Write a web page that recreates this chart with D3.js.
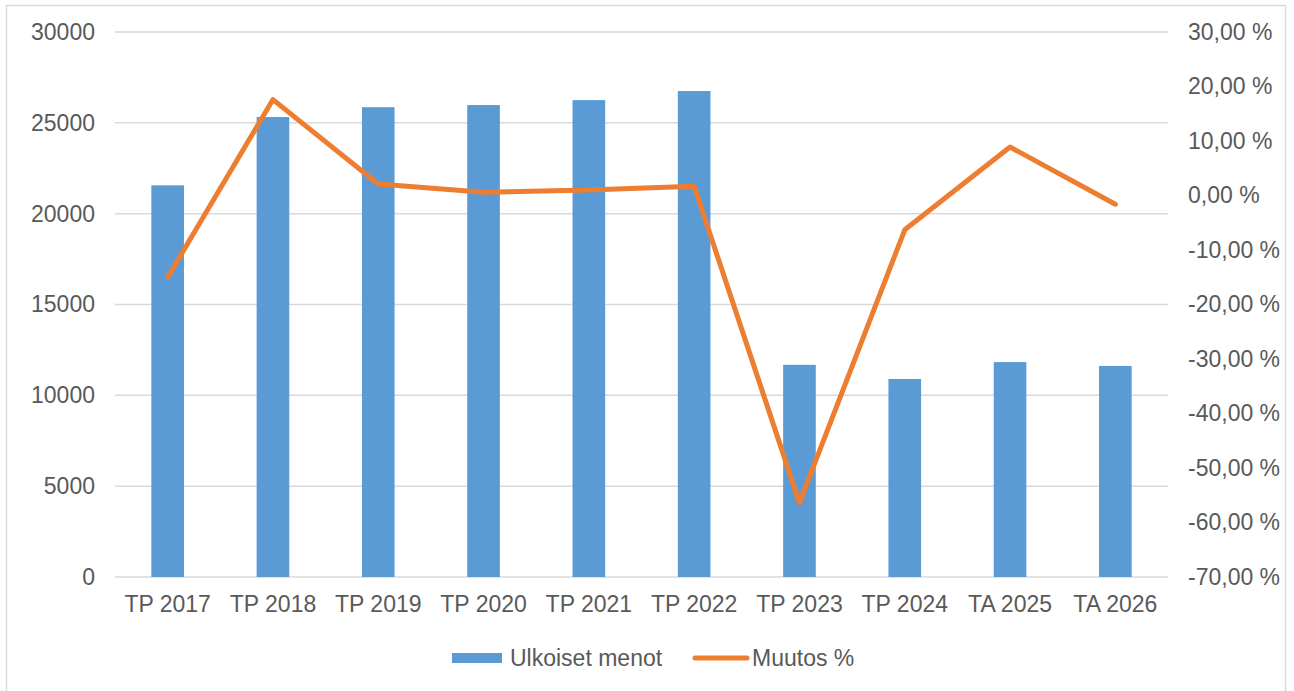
<!DOCTYPE html>
<html>
<head>
<meta charset="utf-8">
<script src="https://cdn.jsdelivr.net/npm/d3@7"></script>
<style>
  body { margin: 0; background: #fff; overflow: hidden; }
  text { font-family: "Liberation Sans", Arial, sans-serif; fill: #595959; }
</style>
</head>
<body>
<div id="chart"></div>
<script>
// Ulkoiset menot (bars, left axis) and Muutos % (line, right axis)
var categories = ["TP 2017", "TP 2018", "TP 2019", "TP 2020", "TP 2021", "TP 2022", "TP 2023", "TP 2024", "TA 2025", "TA 2026"]
var menot = [21560, 25320, 25860, 25980, 26250, 26750, 11680, 10900, 11830, 11620]
var muutos = [-15.0, 17.6, 2.1, 0.6, 1.0, 1.7, -56.4, -6.3, 8.9, -1.6]
var leftTicks = [0, 5000, 10000, 15000, 20000, 25000, 30000]
var rightTicks = [-70, -60, -50, -40, -30, -20, -10, 0, 10, 20, 30]
var legendText = ["Ulkoiset menot", "Muutos %"]

const W = 1294, H = 691
const plot = {left: 115, right: 1168, top: 32, bottom: 577}
const blue = "#5b9bd5", orange = "#ed7d31"

var svg = d3.select("#chart").append("svg").attr("width", W).attr("height", H)

// outer frame (bottom edge is cut off in the picture)
svg.append("rect").attr("x", 6.5).attr("y", 5.5).attr("width", 1279).attr("height", 700)
    .attr("fill", "#fff").attr("stroke", "#d9d9d9").attr("stroke-width", 1.5)

var x = d3.scaleBand().domain(categories).range([plot.left, plot.right]).paddingInner(0.69).paddingOuter(0.345)
var y = d3.scaleLinear().domain([0, 30000]).range([plot.bottom, plot.top])
var y2 = d3.scaleLinear().domain([-70, 30]).range([plot.bottom, plot.top])

// gridlines
svg.append("g").selectAll("line").data(leftTicks).enter().append("line")
    .attr("x1", plot.left).attr("x2", plot.right)
    .attr("y1", d => y(d)).attr("y2", d => y(d))
    .attr("stroke", "#d9d9d9").attr("stroke-width", 1.5)

// left axis labels
var yAxis = d3.axisLeft(y).tickValues(leftTicks).tickSize(0).tickPadding(0).tickFormat(d3.format("d"))
var gy = svg.append("g").attr("transform", "translate(95,0)").call(yAxis)
gy.select(".domain").remove()
gy.selectAll("text").style("font-size", "23px").attr("fill", "#595959")

// right axis labels, finnish style "-10,00 %"
var fmtPct = d => d3.format(".2f")(d).replace(".", ",").replace("\u2212", "-") + " %"
var y2Axis = d3.axisRight(y2).tickValues(rightTicks).tickSize(0).tickPadding(0).tickFormat(fmtPct)
var gy2 = svg.append("g").attr("transform", "translate(1188,0)").call(y2Axis)
gy2.select(".domain").remove()
gy2.selectAll("text").style("font-size", "23px").attr("fill", "#595959")

// bars
svg.append("g").selectAll("rect").data(menot).enter().append("rect")
    .attr("x", (d, i) => x(categories[i]))
    .attr("y", d => y(d))
    .attr("width", x.bandwidth())
    .attr("height", d => y(0) - y(d))
    .attr("fill", blue)

// category labels
var xAxis = d3.axisBottom(x).tickSize(0).tickPadding(0)
var gx = svg.append("g").attr("transform", "translate(0,596)").call(xAxis)
gx.select(".domain").remove()
gx.selectAll("text").style("font-size", "23px").attr("fill", "#595959")

// line
var line = d3.line().x((d, i) => x(categories[i]) + x.bandwidth() / 2).y(d => y2(d))
svg.append("path").datum(muutos).attr("d", line)
    .attr("fill", "none").attr("stroke", orange).attr("stroke-width", 5)
    .attr("stroke-linejoin", "round").attr("stroke-linecap", "round")

// legend
var lg = svg.append("g")
lg.append("rect").attr("x", 452).attr("y", 653).attr("width", 50).attr("height", 10).attr("fill", blue)
lg.append("text").attr("x", 510).attr("y", 666).style("font-size", "23px").text(legendText[0])
lg.append("line").attr("x1", 695).attr("x2", 747).attr("y1", 658).attr("y2", 658)
    .attr("stroke", orange).attr("stroke-width", 5).attr("stroke-linecap", "round")
lg.append("text").attr("x", 752).attr("y", 666).style("font-size", "23px").text(legendText[1])
</script>
</body>
</html>
